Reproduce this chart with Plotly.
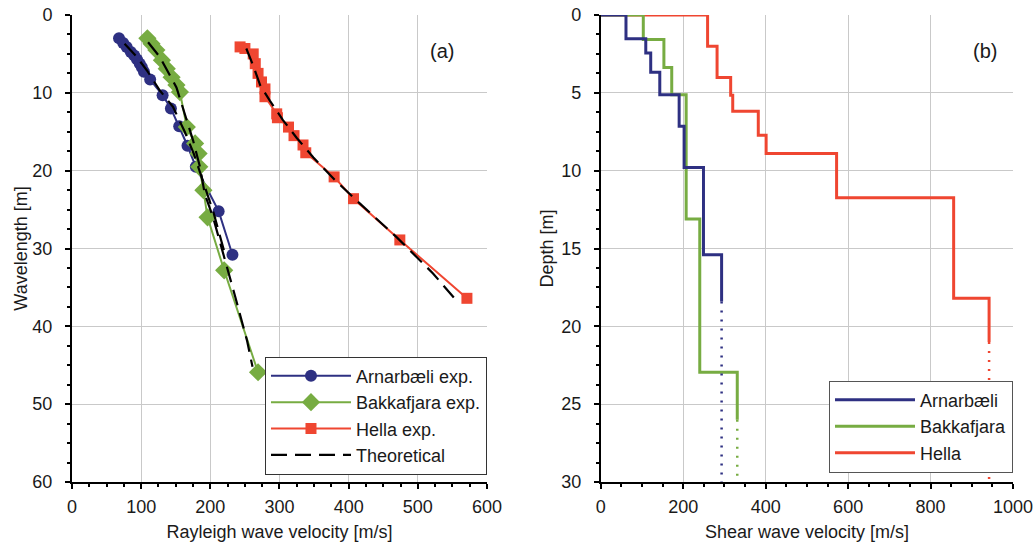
import plotly.graph_objects as go

# ---------------- Panel (a): Rayleigh wave dispersion ----------------
arn_v = [68, 74, 79, 85, 90, 94, 98, 101, 104, 113, 131, 143, 155, 167, 179, 212, 232]
arn_l = [3.0, 3.6, 4.1, 4.75, 5.2, 5.7, 6.25, 6.7, 7.3, 8.3, 10.3, 12.0, 14.3, 16.8, 19.5, 25.2, 30.8]

bak_v = [109, 115, 122, 130, 137, 144, 151, 156, 166, 178, 183, 184, 190, 196, 220, 269]
bak_l = [3.0, 3.7, 4.5, 5.8, 6.9, 8.0, 9.0, 9.9, 14.4, 16.5, 17.8, 19.5, 22.5, 26.0, 32.8, 45.9]

hel_v = [243, 250, 262, 265, 269, 274, 279, 279, 296, 297, 313, 321, 334, 338, 379, 407, 474, 571]
hel_l = [4.1, 4.3, 5.0, 6.25, 7.5, 8.6, 9.5, 10.5, 12.7, 13.2, 14.4, 15.5, 16.7, 17.7, 20.8, 23.6, 28.9, 36.4]

th_arn_v = [76, 92, 109, 127, 146, 163, 176, 190, 205, 222]
th_arn_l = [3.7, 5.2, 7.2, 9.7, 11.8, 15.0, 17.8, 21.5, 25.5, 31.0]
th_bak_v = [110, 127, 151, 163, 175, 185, 192, 204, 219, 236, 253, 261]
th_bak_l = [3.5, 5.4, 9.3, 12.7, 16.1, 19.5, 23.0, 26.0, 30.7, 36.2, 41.8, 45.2]
th_hel_v = [252, 262, 272, 286, 305, 325, 349, 380, 416, 470, 522, 552]
th_hel_l = [4.3, 6.5, 9.0, 11.0, 13.5, 15.8, 18.3, 21.2, 24.2, 28.6, 33.2, 36.3]

# ---------------- Panel (b): shear wave velocity profiles ----------------
# layer velocities and layer boundaries (depth), plus extrapolated (dotted) bottom
arn_vs = [61, 109, 121, 143, 190, 202, 249, 293]
arn_z = [0, 1.52, 2.44, 3.68, 5.12, 7.15, 9.79, 15.4, 18.4]
bak_vs = [103, 153, 172, 207, 240, 331]
bak_z = [0, 1.58, 3.38, 5.12, 13.1, 22.95, 26.0]
hel_vs = [259, 282, 315, 320, 382, 401, 572, 856, 942]
hel_z = [0, 2.01, 4.02, 5.16, 6.19, 7.73, 8.9, 11.74, 18.19, 21.0]
max_depth = 30

BLUE = "#2e3082"
GREEN = "#77ac42"
RED = "#ef4631"
FONT = "Liberation Sans, Arial, sans-serif"
TXT = "#1a1a1a"


def step_profile(vs, z):
    xs, ys = [0], [0]
    for i, v in enumerate(vs):
        xs += [v, v]
        ys += [z[i], z[i + 1]]
    return xs, ys


fig = go.Figure()

series_a = [
    ("Arnarbæli exp.", arn_v, arn_l, BLUE, "circle", 12),
    ("Bakkafjara exp.", bak_v, bak_l, GREEN, "diamond", 14),
    ("Hella exp.", hel_v, hel_l, RED, "square", 11),
]
for name, xv, yv, col, sym, sz in series_a:
    fig.add_trace(go.Scatter(
        x=xv, y=yv, name=name, mode="lines+markers",
        line=dict(color=col, width=2),
        marker=dict(symbol=sym, size=sz, color=col),
        xaxis="x", yaxis="y", legend="legend",
    ))

for i, (xv, yv) in enumerate([(th_arn_v, th_arn_l), (th_bak_v, th_bak_l), (th_hel_v, th_hel_l)]):
    fig.add_trace(go.Scatter(
        x=xv, y=yv, name="Theoretical", mode="lines",
        line=dict(color="black", width=2.2, dash="16px,8px"),
        legendgroup="theo", showlegend=(i == 0),
        xaxis="x", yaxis="y", legend="legend",
    ))

# Panel (b): draw red, green, blue (blue on top), legend ranked Arnarbæli first
profiles = [
    ("Hella", hel_vs, hel_z, RED, 3),
    ("Bakkafjara", bak_vs, bak_z, GREEN, 2),
    ("Arnarbæli", arn_vs, arn_z, BLUE, 1),
]
for name, vs, z, col, rank in profiles:
    xs, ys = step_profile(vs, z)
    fig.add_trace(go.Scatter(
        x=xs, y=ys, name=name, mode="lines",
        line=dict(color=col, width=3),
        xaxis="x2", yaxis="y2", legend="legend2", legendrank=rank,
    ))
    fig.add_trace(go.Scatter(
        x=[vs[-1], vs[-1]], y=[z[-1], max_depth], mode="lines",
        line=dict(color=col, width=2.5, dash="2px,7px"),
        showlegend=False, xaxis="x2", yaxis="y2",
    ))

axis_common = dict(
    showline=True, linecolor="black", linewidth=2,
    ticks="outside", ticklen=5, tickwidth=1.5, tickcolor="black",
    showgrid=True, gridcolor="#c9c9c9", gridwidth=1.2,
    zeroline=False, automargin=False, ticklabeloverflow="allow",
    tickfont=dict(family=FONT, size=18, color=TXT),
)
title_font = dict(family=FONT, size=18, color=TXT)
legend_font = dict(family=FONT, size=18, color=TXT)
xminor = dict(ticks="outside", ticklen=3, tickcolor="black", showgrid=False)

fig.update_layout(
    width=1034, height=546,
    margin=dict(l=72, r=21, t=15, b=64),
    paper_bgcolor="white", plot_bgcolor="white",
    font=dict(family=FONT, color=TXT),
    xaxis=dict(domain=[0, 0.441], range=[0, 600], dtick=100, anchor="y",
               minor=dict(dtick=25, **xminor), ticklabelstandoff=2,
               title=dict(text="Rayleigh wave velocity [m/s]", font=title_font, standoff=10),
               **axis_common),
    yaxis=dict(range=[60, 0], dtick=10, anchor="x",
               minor=dict(dtick=2.5, **xminor), ticklabelstandoff=9,
               title=dict(text="Wavelength [m]", font=title_font, standoff=0),
               **axis_common),
    xaxis2=dict(domain=[0.562, 1], range=[0, 1000], dtick=200, anchor="y2",
                minor=dict(dtick=50, **xminor), ticklabelstandoff=2,
                title=dict(text="Shear wave velocity [m/s]", font=title_font, standoff=10),
                **axis_common),
    yaxis2=dict(range=[30, 0], dtick=5, anchor="x2",
                minor=dict(dtick=1.25, **xminor), ticklabelstandoff=9,
                title=dict(text="Depth [m]", font=title_font, standoff=3),
                **axis_common),
    legend=dict(x=0.441, xanchor="right", y=0.016, yanchor="bottom",
                bgcolor="white", bordercolor="#333333", borderwidth=1,
                font=legend_font, itemwidth=80, tracegroupgap=0),
    legend2=dict(x=1.0, xanchor="right", y=0.02, yanchor="bottom",
                 bgcolor="white", bordercolor="#555555", borderwidth=1,
                 font=legend_font, itemwidth=80),
    annotations=[
        dict(text="(a)", x=0.393, y=0.95, xref="paper", yref="paper",
             showarrow=False, font=dict(family=FONT, size=20, color=TXT)),
        dict(text="(b)", x=0.985, y=0.95, xref="paper", yref="paper",
             showarrow=False, font=dict(family=FONT, size=20, color=TXT)),
    ],
)

# remove the default 8px page margin so the 1034x546 figure fills the window exactly
fig.write_html(
    "out.html",
    config={"displayModeBar": False},
    post_script="document.body.style.margin='0';document.body.style.overflow='hidden';",
)
